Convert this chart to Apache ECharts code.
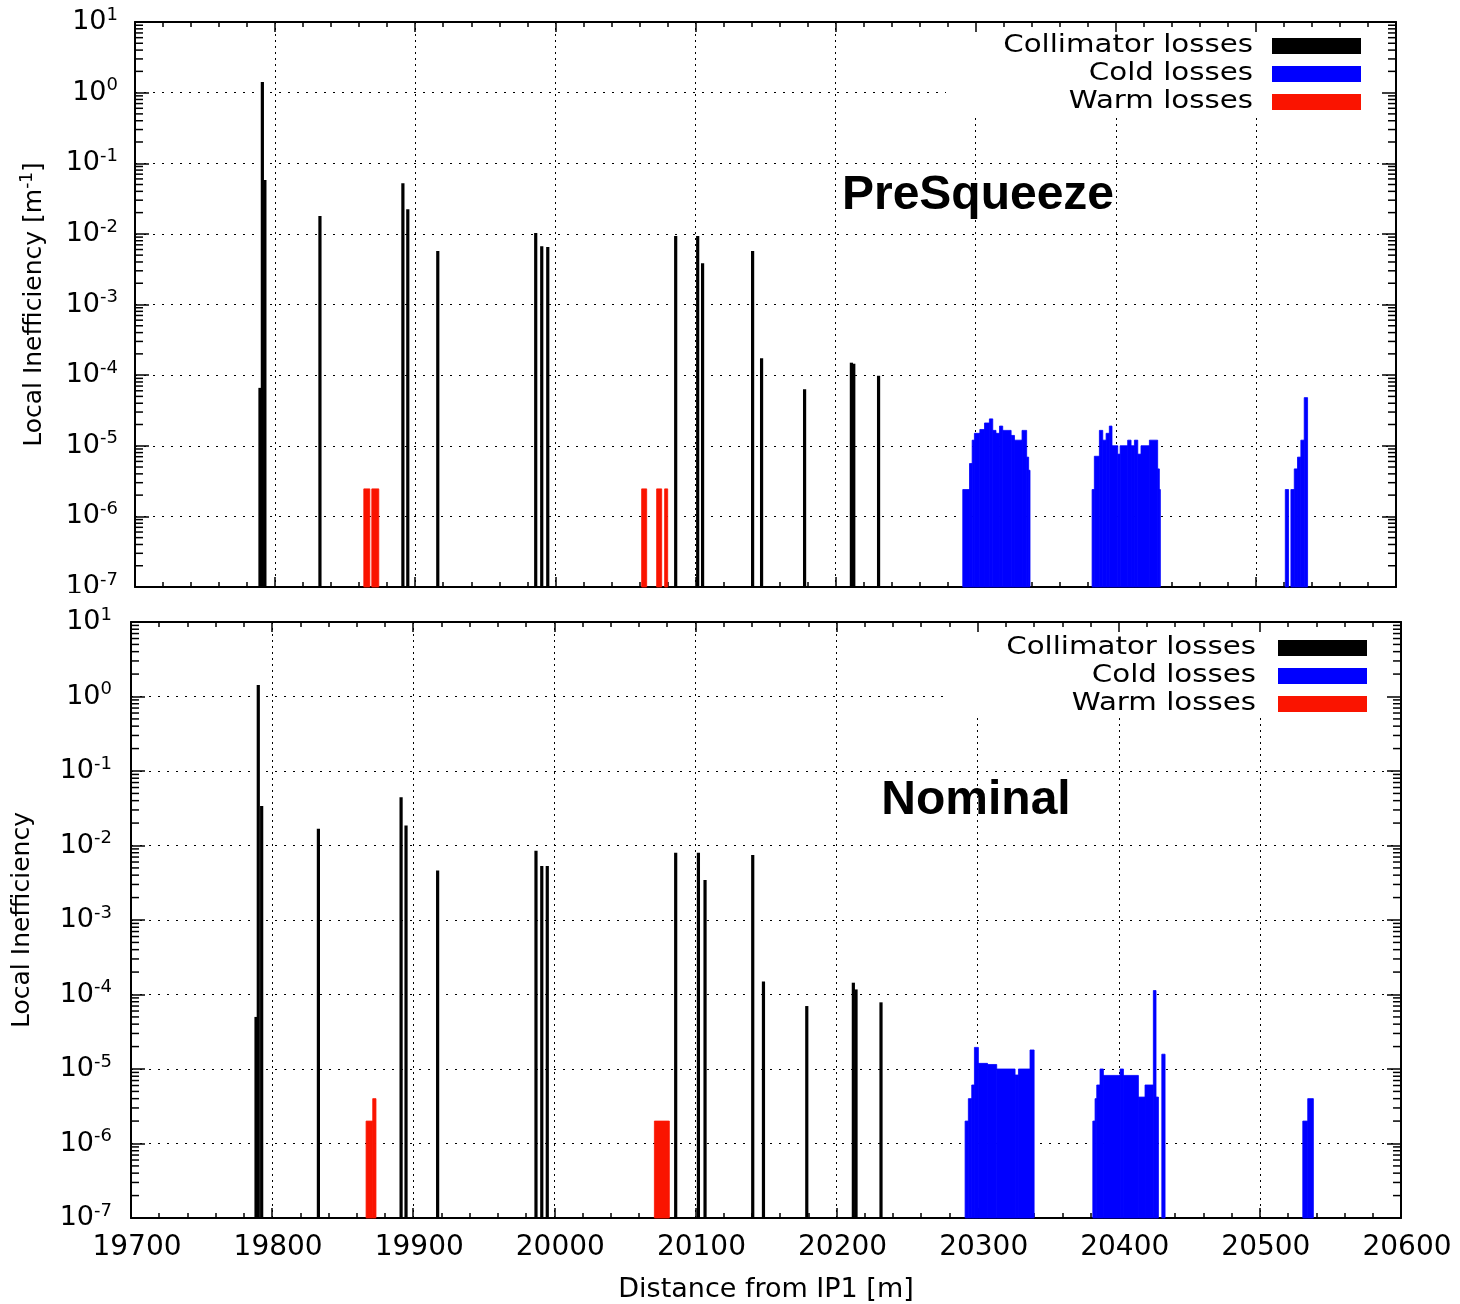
<!DOCTYPE html>
<html><head><meta charset="utf-8">
<script src="https://cdn.jsdelivr.net/npm/echarts@6/dist/echarts.min.js"></script>
<style>html,body{margin:0;padding:0;background:#fff}#c{width:1460px;height:1304px}</style>
</head><body><div id="c"></div>
<script>
// ---------- axes ----------
const X_MIN = 19700, X_MAX = 20600, X_STEP = 100;
const Y_MIN = 1e-7, Y_MAX = 10;
const yDecades = [-7, -6, -5, -4, -3, -2, -1, 0, 1];
const yMinorMult = [2, 3, 4, 5, 6, 7, 8, 9];

// ---------- PreSqueeze (top) ----------
const preCollX = [19789.2, 19790.9, 19792.7, 19832.0, 19891.2, 19894.7, 19916.1, 19986.0, 19990.3, 19994.6,
                  20085.9, 20101.6, 20105.1, 20140.8, 20147.2, 20177.9, 20211.3, 20213.0, 20230.7];
const preCollY = [6.6e-5, 1.41, 0.058, 0.0179, 0.052, 0.0224, 0.0057, 0.0103, 0.0067, 0.0065,
                  0.0093, 0.0093, 0.00385, 0.0057, 1.74e-4, 6.3e-5, 1.5e-4, 1.45e-4, 9.8e-5];
// warm losses: [start, end, value]
const preWarm = [[19863.3, 19867.6, 2.45e-6], [19869.0, 19874.0, 2.45e-6],
                 [20061.6, 20065.2, 2.45e-6], [20072.3, 20075.9, 2.45e-6], [20078.0, 20080.2, 2.45e-6]];
// cold losses: [start, end, value]
const preCold = [
  [20290.8, 20295.6, 2.4e-6], [20295.6, 20297.5, 5.6e-6], [20297.5, 20299.1, 1.2e-5], [20299.1, 20303.0, 1.5e-5],
  [20303.0, 20306.3, 1.7e-5], [20306.3, 20309.8, 2.1e-5], [20309.8, 20312.2, 2.4e-5], [20312.2, 20314.5, 1.65e-5],
  [20314.5, 20317.0, 1.5e-5], [20317.0, 20319.3, 1.9e-5], [20319.3, 20325.3, 1.65e-5], [20325.3, 20327.7, 1.4e-5],
  [20327.7, 20333.1, 1.2e-5], [20333.1, 20336.4, 1.65e-5], [20336.4, 20337.8, 6.9e-6], [20337.8, 20338.8, 4.5e-6],
  [20383.1, 20384.7, 2.4e-6], [20384.7, 20388.3, 7.1e-6], [20388.3, 20390.7, 1.65e-5], [20390.7, 20393.1, 1.2e-5],
  [20393.1, 20395.4, 1.5e-5], [20395.4, 20397.3, 1.9e-5], [20397.3, 20401.4, 1.0e-5], [20401.4, 20403.1, 7.6e-6],
  [20403.1, 20408.5, 1.0e-5], [20408.5, 20410.9, 1.2e-5], [20410.9, 20413.3, 1.0e-5], [20413.3, 20415.7, 1.2e-5],
  [20415.7, 20418.0, 7.6e-6], [20418.0, 20424.0, 1.0e-5], [20424.0, 20429.9, 1.2e-5], [20429.9, 20431.1, 4.7e-6],
  [20431.1, 20431.8, 2.4e-6],
  [20521.0, 20523.3, 2.4e-6], [20525.0, 20527.4, 2.4e-6], [20527.4, 20529.7, 4.7e-6], [20529.7, 20532.1, 6.9e-6],
  [20532.1, 20534.5, 1.2e-5], [20534.5, 20536.9, 4.8e-5]
];

// ---------- Nominal (bottom) ----------
const nomCollX = [19788.6, 19790.2, 19792.6, 19832.8, 19891.4, 19894.9, 19917.3, 19987.0, 19991.1, 19995.0,
                  20086.0, 20102.1, 20106.8, 20140.6, 20148.2, 20178.9, 20211.9, 20213.8, 20231.5];
const nomCollY = [5.0e-5, 1.43, 0.034, 0.0168, 0.0444, 0.0185, 0.0046, 0.0085, 0.0053, 0.0053,
                  0.008, 0.008, 0.00344, 0.00745, 1.49e-4, 7.0e-5, 1.44e-4, 1.17e-4, 7.85e-5];
const nomWarm = [[19866.6, 19871.3, 2.0e-6], [19871.3, 19873.6, 4.0e-6], [20070.9, 20081.5, 2.0e-6]];
const nomCold = [
  [20291.1, 20293.4, 2.0e-6], [20293.4, 20295.8, 4.0e-6], [20295.8, 20297.7, 6.1e-6], [20297.7, 20300.5, 1.95e-5],
  [20300.5, 20307.0, 1.19e-5], [20307.0, 20313.5, 1.15e-5], [20313.5, 20326.5, 1.0e-5], [20326.5, 20328.9, 8.3e-6],
  [20328.9, 20337.1, 1.0e-5], [20337.1, 20340.0, 1.8e-5],
  [20381.6, 20383.2, 2.0e-6], [20383.2, 20384.4, 4.0e-6], [20384.4, 20386.7, 6.1e-6], [20386.7, 20389.1, 1.0e-5],
  [20389.1, 20400.9, 8.2e-6], [20400.9, 20403.3, 1.0e-5], [20403.3, 20413.9, 8.2e-6], [20413.9, 20418.6, 4.2e-6],
  [20418.6, 20424.5, 6.1e-6], [20424.5, 20426.4, 1.13e-4], [20426.4, 20428.1, 4.2e-6], [20430.5, 20432.8, 1.58e-5],
  [20530.4, 20533.9, 2.0e-6], [20533.9, 20537.9, 4.0e-6]
];

const legendNames = ['Collimator losses', 'Cold losses', 'Warm losses'];
const legendColors = ['#000000', '#0000ff', '#fa1400'];
const titles = ['PreSqueeze', 'Nominal'];

// ---------- helpers ----------
const FONT = 'DejaVu Sans';

const minorTickVals = [];
yDecades.slice(0, -1).forEach(e => yMinorMult.forEach(m => minorTickVals.push([X_MIN, m * Math.pow(10, e)])));

function expLabel(v) {
  const e = Math.round(Math.log10(v));
  return '{b|10}{s|' + e + '}';
}
const labelRich = {
  b: { fontSize: 27, fontFamily: FONT, color: '#000', lineHeight: 32 },
  s: { fontSize: 18, fontFamily: FONT, color: '#000', verticalAlign: 'top', lineHeight: 19 }
};

function xAxes(g, showLabels) {
  return [{
    type: 'value', gridIndex: g, min: X_MIN, max: X_MAX, interval: X_STEP, position: 'bottom',
    axisLine: { show: true, lineStyle: { color: '#000', width: 2 } },
    axisTick: { show: true, inside: true, length: 10, lineStyle: { color: '#000', width: 1.5 } },
    minorTick: { show: true, splitNumber: 5, length: 5, lineStyle: { color: '#000', width: 1.5 } },
    splitLine: { show: true, lineStyle: { color: '#000', width: 1, type: [2, 4] } },
    axisLabel: { show: showLabels, formatter: v => String(v), fontSize: 28, fontFamily: FONT, color: '#000',
                 margin: 16, padding: [0, 0, 0, 12], hideOverlap: false, showMinLabel: true, showMaxLabel: true },
    name: showLabels ? 'Distance from IP1 [m]' : '', nameLocation: 'middle', nameGap: 58,
    nameTextStyle: { fontSize: 27, fontFamily: FONT, color: '#000' }
  }, {
    type: 'value', gridIndex: g, min: X_MIN, max: X_MAX, interval: X_STEP, position: 'top', z: 5,
    axisLine: { show: true, lineStyle: { color: '#000', width: 2 } },
    axisTick: { show: true, inside: true, length: 10, lineStyle: { color: '#000', width: 1.5 } },
    minorTick: { show: true, splitNumber: 5, length: 5, lineStyle: { color: '#000', width: 1.5 } },
    splitLine: { show: false }, axisLabel: { show: false }
  }];
}
function yAxes(g, name, nameGap, margin, nameRich) {
  return [{
    type: 'log', logBase: 10, gridIndex: g, min: Y_MIN, max: Y_MAX, interval: 1, position: 'left',
    axisLine: { show: true, lineStyle: { color: '#000', width: 2 } },
    axisTick: { show: true, inside: true, length: 14, lineStyle: { color: '#000', width: 1.5 } },
    splitLine: { show: true, lineStyle: { color: '#000', width: 1, type: [2, 7] } },
    axisLabel: { formatter: expLabel, rich: labelRich, margin: margin, showMinLabel: true, showMaxLabel: true, hideOverlap: false },
    name: name, nameLocation: 'middle', nameGap: nameGap,
    nameTextStyle: { fontSize: 25, fontFamily: FONT, color: '#000', rich: nameRich }
  }, {
    type: 'log', logBase: 10, gridIndex: g, min: Y_MIN, max: Y_MAX, interval: 1, position: 'right', z: 5,
    axisLine: { show: true, lineStyle: { color: '#000', width: 2 } },
    axisTick: { show: true, inside: true, length: 14, lineStyle: { color: '#000', width: 1.5 } },
    splitLine: { show: false }, axisLabel: { show: false }
  }];
}

function impulseRender(params, api) {
  const x = api.value(0), y = api.value(1);
  const top = api.coord([x, y]);
  const bot = api.coord([x, Y_MIN]);
  return { type: 'rect', shape: { x: top[0] - 1.6, y: top[1], width: 3.2, height: bot[1] - top[1] }, style: { fill: '#000' } };
}
function blockRender(color) {
  return function (params, api) {
    const a = api.coord([api.value(0), api.value(2)]);
    const b = api.coord([api.value(1), Y_MIN]);
    return { type: 'rect', shape: { x: a[0], y: a[1], width: Math.max(b[0] - a[0], 1), height: b[1] - a[1] },
             style: { fill: color, stroke: color, lineWidth: 0.8 } };
  };
}
function minorRender(params, api) {
  const p = api.coord([X_MIN, api.value(1)]);
  const cs = params.coordSys;
  return { type: 'group', children: [
    { type: 'line', shape: { x1: cs.x, y1: p[1], x2: cs.x + 8, y2: p[1] }, style: { stroke: '#000', lineWidth: 1.5 } },
    { type: 'line', shape: { x1: cs.x + cs.width, y1: p[1], x2: cs.x + cs.width - 8, y2: p[1] }, style: { stroke: '#000', lineWidth: 1.5 } }
  ] };
}
function panelSeries(axBase, collX, collY, cold, warm) {
  const xi = axBase * 2, yi = axBase * 2;
  return [
    { name: legendNames[2], type: 'custom', xAxisIndex: xi, yAxisIndex: yi, renderItem: blockRender(legendColors[2]),
      encode: { x: [0, 1], y: 2 }, data: warm, z: 3, silent: true },
    { name: legendNames[1], type: 'custom', xAxisIndex: xi, yAxisIndex: yi, renderItem: blockRender(legendColors[1]),
      encode: { x: [0, 1], y: 2 }, data: cold, z: 3, silent: true },
    { name: legendNames[0], type: 'custom', xAxisIndex: xi, yAxisIndex: yi, renderItem: impulseRender,
      encode: { x: 0, y: 1 }, data: collX.map((x, i) => [x, collY[i]]), z: 4, silent: true },
    { type: 'custom', xAxisIndex: xi, yAxisIndex: yi, renderItem: minorRender,
      encode: { x: 0, y: 1 }, data: minorTickVals, z: 6, silent: true }
  ];
}

function legendGraphic(rightX, swX, cy0) {
  const els = [];
  legendNames.forEach((n, i) => {
    const cy = cy0 + i * 28;
    els.push({ type: 'text', x: rightX, y: cy, scaleX: 1.22, z: 10,
      style: { text: n, fontSize: 24, fontFamily: FONT, fill: '#000', align: 'right', verticalAlign: 'middle' } });
    els.push({ type: 'rect', z: 10, shape: { x: swX, y: cy - 8, width: 89, height: 16 }, style: { fill: legendColors[i] } });
  });
  return els;
}

const chart = echarts.init(document.getElementById('c'), null, { renderer: 'canvas' });
const topName = '{a|Local Inefficiency [m}{s|-1}{a|]}';
const nameRich = { a: { fontSize: 25, fontFamily: FONT, color: '#000', lineHeight: 30 },
                   s: { fontSize: 17, fontFamily: FONT, color: '#000', verticalAlign: 'top', lineHeight: 18 } };

chart.setOption({
  animation: false,
  backgroundColor: '#fff',
  grid: [
    { left: 135, top: 22, width: 1261, height: 565, containLabel: false, outerBoundsMode: 'none' },
    { left: 131, top: 622, width: 1270, height: 596, containLabel: false, outerBoundsMode: 'none' }
  ],
  xAxis: [...xAxes(0, false), ...xAxes(1, true)],
  yAxis: [...yAxes(0, topName, 86, 17, nameRich), ...yAxes(1, 'Local Inefficiency', 96, 19, null)],
  series: [
    ...panelSeries(0, preCollX, preCollY, preCold, preWarm),
    ...panelSeries(1, nomCollX, nomCollY, nomCold, nomWarm)
  ],
  graphic: [
    // legend backgrounds (hide grid lines behind legends)
    { type: 'rect', z: 1, shape: { x: 946, y: 23, width: 449, height: 95 }, style: { fill: '#fff' } },
    { type: 'rect', z: 1, shape: { x: 948, y: 623, width: 452, height: 92 }, style: { fill: '#fff' } },
    // bottom of the top panel's lowest label is cut by the lower panel
    { type: 'rect', z: 20, shape: { x: 30, y: 593, width: 96, height: 14 }, style: { fill: '#fff' } },
    ...legendGraphic(1253, 1272, 46),
    ...legendGraphic(1256, 1278, 648),
    { type: 'text', x: 978, y: 196, z: 10,
      style: { text: titles[0], fontSize: 48, fontWeight: 'bold', fontFamily: 'Liberation Sans', fill: '#000', align: 'center', verticalAlign: 'middle' } },
    { type: 'text', x: 976, y: 801, z: 10,
      style: { text: titles[1], fontSize: 48, fontWeight: 'bold', fontFamily: 'Liberation Sans', fill: '#000', align: 'center', verticalAlign: 'middle' } }
  ]
});
</script>
</body></html>
